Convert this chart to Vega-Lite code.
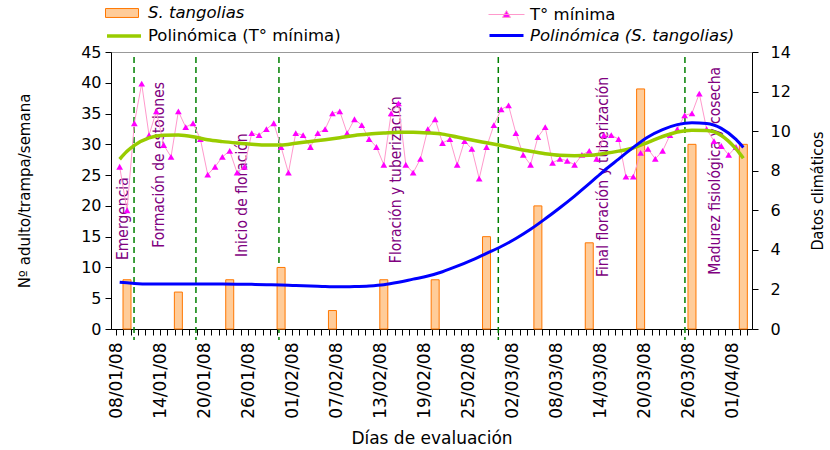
{
  "$schema": "https://vega.github.io/schema/vega-lite/v6.json",
  "autosize": "none",
  "width": 641,
  "height": 277,
  "padding": {"left": 111, "top": 52, "right": 78, "bottom": 121},
  "background": "white",
  "config": {
    "view": {"stroke": "#999999"},
    "font": "DejaVu Sans",
    "axis": {
      "domainColor": "black",
      "tickColor": "black",
      "labelColor": "black",
      "titleColor": "black",
      "labelFont": "DejaVu Sans",
      "titleFont": "DejaVu Sans",
      "titleFontWeight": "normal",
      "grid": false
    },
    "legend": {
      "labelFont": "DejaVu Sans",
      "labelFontSize": 16.5,
      "labelColor": "black",
      "labelLimit": 400,
      "padding": 0,
      "labelOffset": 9
    }
  },
  "datasets": {
    "bars": [
      {"date": "2008-01-09T12:00Z", "n": 8},
      {"date": "2008-01-16T12:00Z", "n": 6},
      {"date": "2008-01-23T12:00Z", "n": 8},
      {"date": "2008-01-30T12:00Z", "n": 10},
      {"date": "2008-02-06T12:00Z", "n": 3},
      {"date": "2008-02-13T12:00Z", "n": 8},
      {"date": "2008-02-20T12:00Z", "n": 8},
      {"date": "2008-02-27T12:00Z", "n": 15},
      {"date": "2008-03-05T12:00Z", "n": 20},
      {"date": "2008-03-12T12:00Z", "n": 14},
      {"date": "2008-03-19T12:00Z", "n": 39},
      {"date": "2008-03-26T12:00Z", "n": 30},
      {"date": "2008-04-02T12:00Z", "n": 30}
    ],
    "temp": [
      {"date": "2008-01-08T12:00Z", "t": 8.2},
      {"date": "2008-01-09T12:00Z", "t": 6.0},
      {"date": "2008-01-10T12:00Z", "t": 10.4},
      {"date": "2008-01-11T12:00Z", "t": 12.4},
      {"date": "2008-01-12T12:00Z", "t": 9.8},
      {"date": "2008-01-13T12:00Z", "t": 11.0},
      {"date": "2008-01-14T12:00Z", "t": 9.3},
      {"date": "2008-01-15T12:00Z", "t": 8.7},
      {"date": "2008-01-16T12:00Z", "t": 11.0},
      {"date": "2008-01-17T12:00Z", "t": 10.2},
      {"date": "2008-01-18T12:00Z", "t": 10.4},
      {"date": "2008-01-19T12:00Z", "t": 9.6},
      {"date": "2008-01-20T12:00Z", "t": 7.8},
      {"date": "2008-01-21T12:00Z", "t": 8.2},
      {"date": "2008-01-22T12:00Z", "t": 8.7},
      {"date": "2008-01-23T12:00Z", "t": 9.0},
      {"date": "2008-01-24T12:00Z", "t": 7.9},
      {"date": "2008-01-25T12:00Z", "t": 8.2},
      {"date": "2008-01-26T12:00Z", "t": 9.9},
      {"date": "2008-01-27T12:00Z", "t": 9.8},
      {"date": "2008-01-28T12:00Z", "t": 10.1},
      {"date": "2008-01-29T12:00Z", "t": 10.4},
      {"date": "2008-01-30T12:00Z", "t": 9.2},
      {"date": "2008-01-31T12:00Z", "t": 7.9},
      {"date": "2008-02-01T12:00Z", "t": 9.9},
      {"date": "2008-02-02T12:00Z", "t": 9.8},
      {"date": "2008-02-03T12:00Z", "t": 9.2},
      {"date": "2008-02-04T12:00Z", "t": 9.9},
      {"date": "2008-02-05T12:00Z", "t": 10.1},
      {"date": "2008-02-06T12:00Z", "t": 10.9},
      {"date": "2008-02-07T12:00Z", "t": 11.0},
      {"date": "2008-02-08T12:00Z", "t": 9.9},
      {"date": "2008-02-09T12:00Z", "t": 10.6},
      {"date": "2008-02-10T12:00Z", "t": 10.3},
      {"date": "2008-02-11T12:00Z", "t": 9.6},
      {"date": "2008-02-12T12:00Z", "t": 9.2},
      {"date": "2008-02-13T12:00Z", "t": 8.3},
      {"date": "2008-02-14T12:00Z", "t": 10.9},
      {"date": "2008-02-15T12:00Z", "t": 11.4},
      {"date": "2008-02-16T12:00Z", "t": 8.3},
      {"date": "2008-02-17T12:00Z", "t": 7.9},
      {"date": "2008-02-18T12:00Z", "t": 8.6},
      {"date": "2008-02-19T12:00Z", "t": 10.1},
      {"date": "2008-02-20T12:00Z", "t": 10.6},
      {"date": "2008-02-21T12:00Z", "t": 9.4},
      {"date": "2008-02-22T12:00Z", "t": 9.6},
      {"date": "2008-02-23T12:00Z", "t": 8.3},
      {"date": "2008-02-24T12:00Z", "t": 9.5},
      {"date": "2008-02-25T12:00Z", "t": 9.1},
      {"date": "2008-02-26T12:00Z", "t": 7.6},
      {"date": "2008-02-27T12:00Z", "t": 9.2},
      {"date": "2008-02-28T12:00Z", "t": 10.3},
      {"date": "2008-02-29T12:00Z", "t": 11.1},
      {"date": "2008-03-01T12:00Z", "t": 11.3},
      {"date": "2008-03-02T12:00Z", "t": 9.9},
      {"date": "2008-03-03T12:00Z", "t": 8.8},
      {"date": "2008-03-04T12:00Z", "t": 8.3},
      {"date": "2008-03-05T12:00Z", "t": 9.7},
      {"date": "2008-03-06T12:00Z", "t": 10.2},
      {"date": "2008-03-07T12:00Z", "t": 8.4},
      {"date": "2008-03-08T12:00Z", "t": 8.6},
      {"date": "2008-03-09T12:00Z", "t": 8.5},
      {"date": "2008-03-10T12:00Z", "t": 8.3},
      {"date": "2008-03-11T12:00Z", "t": 8.8},
      {"date": "2008-03-12T12:00Z", "t": 9.0},
      {"date": "2008-03-13T12:00Z", "t": 8.6},
      {"date": "2008-03-14T12:00Z", "t": 9.8},
      {"date": "2008-03-15T12:00Z", "t": 9.8},
      {"date": "2008-03-16T12:00Z", "t": 9.6},
      {"date": "2008-03-17T12:00Z", "t": 7.7},
      {"date": "2008-03-18T12:00Z", "t": 7.7},
      {"date": "2008-03-19T12:00Z", "t": 8.9},
      {"date": "2008-03-20T12:00Z", "t": 9.1},
      {"date": "2008-03-21T12:00Z", "t": 8.6},
      {"date": "2008-03-22T12:00Z", "t": 9.0},
      {"date": "2008-03-23T12:00Z", "t": 9.8},
      {"date": "2008-03-24T12:00Z", "t": 10.1},
      {"date": "2008-03-25T12:00Z", "t": 10.8},
      {"date": "2008-03-26T12:00Z", "t": 10.9},
      {"date": "2008-03-27T12:00Z", "t": 11.9},
      {"date": "2008-03-28T12:00Z", "t": 10.1},
      {"date": "2008-03-29T12:00Z", "t": 9.5},
      {"date": "2008-03-30T12:00Z", "t": 9.25},
      {"date": "2008-03-31T12:00Z", "t": 8.8},
      {"date": "2008-04-01T12:00Z", "t": 9.2}
    ],
    "trend": [
      {"date": "2008-01-08T12:00Z", "g": 8.58, "b": 7.6},
      {"date": "2008-01-09T12:00Z", "g": 8.98, "b": 7.5},
      {"date": "2008-01-10T12:00Z", "g": 9.28, "b": 7.4},
      {"date": "2008-01-12T12:00Z", "g": 9.66, "b": 7.3},
      {"date": "2008-01-14T12:00Z", "g": 9.79, "b": 7.3},
      {"date": "2008-01-16T12:00Z", "g": 9.8, "b": 7.3},
      {"date": "2008-01-18T12:00Z", "g": 9.72, "b": 7.3},
      {"date": "2008-01-20T12:00Z", "g": 9.56, "b": 7.3},
      {"date": "2008-01-22T12:00Z", "g": 9.47, "b": 7.3},
      {"date": "2008-01-24T12:00Z", "g": 9.4, "b": 7.28},
      {"date": "2008-01-26T12:00Z", "g": 9.34, "b": 7.25},
      {"date": "2008-01-28T12:00Z", "g": 9.3, "b": 7.2},
      {"date": "2008-01-30T12:00Z", "g": 9.3, "b": 7.15},
      {"date": "2008-02-01T12:00Z", "g": 9.39, "b": 7.05},
      {"date": "2008-02-03T12:00Z", "g": 9.48, "b": 7.0},
      {"date": "2008-02-05T12:00Z", "g": 9.57, "b": 6.9},
      {"date": "2008-02-07T12:00Z", "g": 9.67, "b": 6.85},
      {"date": "2008-02-09T12:00Z", "g": 9.78, "b": 6.9},
      {"date": "2008-02-11T12:00Z", "g": 9.85, "b": 7.0},
      {"date": "2008-02-13T12:00Z", "g": 9.9, "b": 7.2},
      {"date": "2008-02-15T12:00Z", "g": 9.94, "b": 7.6},
      {"date": "2008-02-17T12:00Z", "g": 9.94, "b": 8.1},
      {"date": "2008-02-19T12:00Z", "g": 9.91, "b": 8.6},
      {"date": "2008-02-21T12:00Z", "g": 9.85, "b": 9.3},
      {"date": "2008-02-23T12:00Z", "g": 9.7, "b": 10.2},
      {"date": "2008-02-25T12:00Z", "g": 9.55, "b": 11.2},
      {"date": "2008-02-27T12:00Z", "g": 9.41, "b": 12.3},
      {"date": "2008-02-29T12:00Z", "g": 9.27, "b": 13.4},
      {"date": "2008-03-02T12:00Z", "g": 9.12, "b": 14.7},
      {"date": "2008-03-04T12:00Z", "g": 8.98, "b": 16.2},
      {"date": "2008-03-06T12:00Z", "g": 8.86, "b": 17.9},
      {"date": "2008-03-08T12:00Z", "g": 8.78, "b": 19.7},
      {"date": "2008-03-10T12:00Z", "g": 8.76, "b": 21.6},
      {"date": "2008-03-12T12:00Z", "g": 8.78, "b": 23.6},
      {"date": "2008-03-14T12:00Z", "g": 8.87, "b": 25.7},
      {"date": "2008-03-16T12:00Z", "g": 8.99, "b": 27.6},
      {"date": "2008-03-18T12:00Z", "g": 9.15, "b": 29.5},
      {"date": "2008-03-20T12:00Z", "g": 9.43, "b": 31.2},
      {"date": "2008-03-22T12:00Z", "g": 9.73, "b": 32.4},
      {"date": "2008-03-24T12:00Z", "g": 9.96, "b": 33.2},
      {"date": "2008-03-26T12:00Z", "g": 10.05, "b": 33.5},
      {"date": "2008-03-28T12:00Z", "g": 10.03, "b": 33.4},
      {"date": "2008-03-30T12:00Z", "g": 9.78, "b": 32.6},
      {"date": "2008-04-01T12:00Z", "g": 9.1, "b": 30.8},
      {"date": "2008-04-02T12:00Z", "g": 8.63, "b": 29.5}
    ],
    "stages": [
      {"date": "2008-01-10T11:00Z"},
      {"date": "2008-01-18T21:30Z"},
      {"date": "2008-01-30T05:00Z"},
      {"date": "2008-02-29T02:30Z"},
      {"date": "2008-03-25T13:00Z"}
    ],
    "phases": [
      {"date": "2008-01-08T22:30Z", "y": 11.2, "label": "Emergencia"},
      {"date": "2008-01-13T21:30Z", "y": 13.2, "label": "Formación de estolones"},
      {"date": "2008-01-25T04:00Z", "y": 11.7, "label": "Inicio de floración"},
      {"date": "2008-02-15T02:30Z", "y": 10.7, "label": "Floración y tuberización"},
      {"date": "2008-03-14T09:30Z", "y": 8.45, "label": "Final floración y tuberización"},
      {"date": "2008-03-29T14:30Z", "y": 8.8, "label": "Madurez fisiológica y cosecha"}
    ]
  },
  "encoding": {
    "x": {
      "field": "date",
      "type": "temporal",
      "title": "Días de evaluación",
      "scale": {
        "type": "utc",
        "domain": [
          {"year": 2008, "month": 1, "date": 8, "utc": true},
          {"year": 2008, "month": 4, "date": 3, "utc": true}
        ]
      },
      "axis": {
        "tickCount": {"interval": "day", "step": 1},
        "labelExpr": "round((datum.value - utc(2008, 0, 8)) / 86400000) % 6 == 0 ? utcFormat(datum.value, '%d/%m/%y') : ''",
        "labelAngle": 270,
        "labelAlign": "right",
        "labelBaseline": "middle",
        "labelOverlap": false,
        "labelFlush": false,
        "labelBound": false,
        "labelFontSize": 17,
        "labelPadding": 7,
        "tickSize": 6,
        "titleFontSize": 17,
        "titlePadding": 12
      }
    }
  },
  "layer": [
    {
      "data": {"name": "stages"},
      "mark": {"type": "rule", "color": "#008000", "strokeWidth": 1.5, "strokeDash": [6, 4]},
      "encoding": {
        "y": {"datum": 44.2, "type": "quantitative", "scale": {"domain": [0, 45], "nice": false}, "axis": null},
        "y2": {"datum": -1.8}
      }
    },
    {
      "data": {"name": "phases"},
      "mark": {"type": "text", "angle": 270, "align": "left", "baseline": "middle", "color": "#800080", "font": "DejaVu Sans Condensed", "fontSize": 15.5},
      "encoding": {
        "y": {"field": "y", "type": "quantitative", "scale": {"domain": [0, 45], "nice": false}, "axis": null},
        "text": {"field": "label"}
      }
    },
    {
      "data": {"name": "bars"},
      "mark": {"type": "bar", "size": 8, "stroke": "#FF7700", "strokeWidth": 1},
      "encoding": {
        "y": {
          "field": "n",
          "type": "quantitative",
          "scale": {"domain": [0, 45], "nice": false},
          "axis": {
            "orient": "left",
            "values": [0, 5, 10, 15, 20, 25, 30, 35, 40, 45],
            "title": "Nº adulto/trampa/semana",
            "labelFontSize": 16,
            "tickSize": 6,
            "labelPadding": 4,
            "titleFontSize": 15,
            "titlePadding": 48
          }
        },
        "color": {
          "datum": "S. tangolias",
          "type": "nominal",
          "scale": {"range": ["#FFCC99"]},
          "legend": {
            "orient": "none", "legendX": -6, "legendY": -56, "title": null,
            "symbolType": "M-1,-0.27H1V0.27H-1Z", "symbolSize": 1089,
            "symbolStrokeWidth": 1, "labelFontStyle": "italic"
          }
        }
      }
    },
    {
      "data": {"name": "temp"},
      "mark": {"type": "line", "color": "#FF99CC", "strokeWidth": 1},
      "encoding": {
        "y": {"field": "t", "type": "quantitative", "scale": {"domain": [0, 14], "nice": false}, "axis": null}
      }
    },
    {
      "data": {"name": "temp"},
      "mark": {"type": "point", "shape": "triangle-up", "filled": true, "opacity": 1, "size": 45},
      "encoding": {
        "y": {
          "field": "t",
          "type": "quantitative",
          "scale": {"domain": [0, 14], "nice": false},
          "axis": {
            "orient": "right",
            "values": [0, 2, 4, 6, 8, 10, 12, 14],
            "title": "Datos climáticos",
            "labelFontSize": 16,
            "tickSize": 6,
            "labelPadding": 12,
            "titleFont": "DejaVu Sans Condensed",
            "titleFontSize": 16,
            "titleAngle": 270,
            "titlePadding": 35
          }
        },
        "color": {
          "datum": "T° mínima",
          "type": "nominal",
          "scale": {"range": ["#FF00FF"]},
          "legend": {
            "orient": "none", "legendX": 377, "legendY": -56, "title": null,
            "symbolType": "M-1,0H1M0,-0.22L0.22,0.16L-0.22,0.16Z", "symbolSize": 1296,
            "symbolStrokeColor": "#FF99CC", "symbolStrokeWidth": 1, "labelOffset": 5
          }
        }
      }
    },
    {
      "data": {"name": "trend"},
      "mark": {"type": "line", "strokeWidth": 3.5, "interpolate": "monotone"},
      "encoding": {
        "y": {"field": "g", "type": "quantitative", "scale": {"domain": [0, 14], "nice": false}, "axis": null},
        "color": {
          "datum": "Polinómica (T° mínima)",
          "type": "nominal",
          "scale": {"range": ["#99CC00"]},
          "legend": {
            "orient": "none", "legendX": -6, "legendY": -35, "title": null,
            "symbolType": "M-1,0H1", "symbolSize": 1156, "symbolStrokeWidth": 3.5, "labelOffset": 5
          }
        }
      }
    },
    {
      "data": {"name": "trend"},
      "mark": {"type": "line", "strokeWidth": 3, "interpolate": "monotone"},
      "encoding": {
        "y": {"field": "b", "type": "quantitative", "scale": {"domain": [0, 45], "nice": false}, "axis": null},
        "color": {
          "datum": "Polinómica (S. tangolias)",
          "type": "nominal",
          "scale": {"range": ["#0000FF"]},
          "legend": {
            "orient": "none", "legendX": 377, "legendY": -35, "title": null,
            "symbolType": "M-1,0H1", "symbolSize": 1156, "symbolStrokeWidth": 3,
            "labelFontStyle": "italic", "labelOffset": 5
          }
        }
      }
    }
  ],
  "resolve": {"scale": {"y": "independent", "color": "independent"}}
}
